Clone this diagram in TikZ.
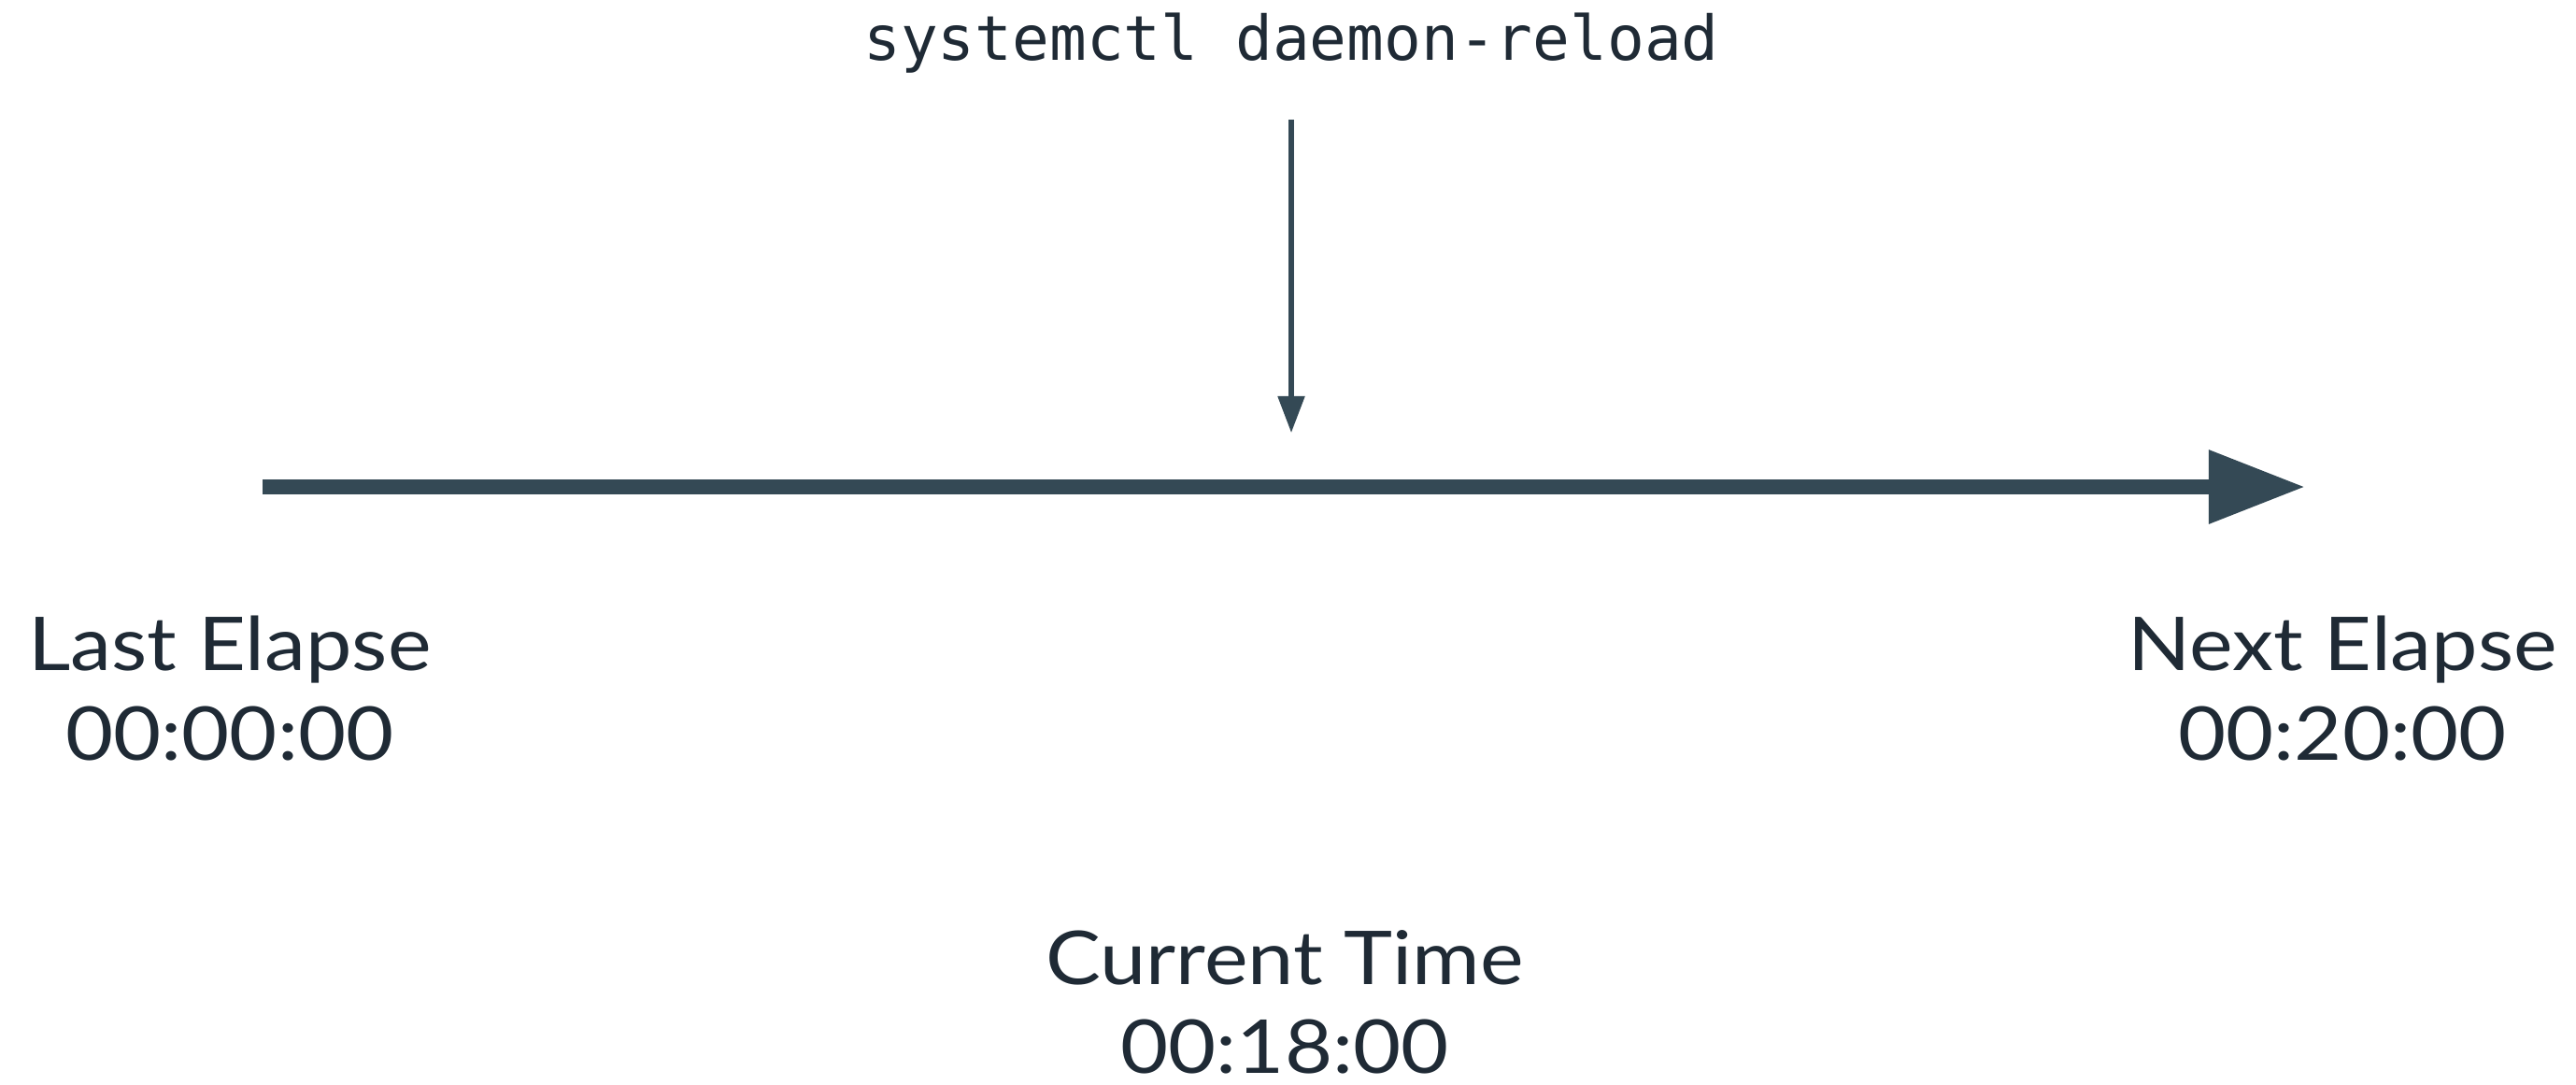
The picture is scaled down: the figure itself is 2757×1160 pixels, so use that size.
\documentclass[tikz,border=0pt]{standalone}
\usepackage{fontspec}
\setmainfont{Lato}[FakeStretch=1.11]
\setmonofont{DejaVu Sans Mono}
\usetikzlibrary{arrows.meta,positioning}
\definecolor{axiscol}{HTML}{344955}
\definecolor{textcol}{HTML}{1F2A35}
\tikzset{
    label/.style={inner sep=0pt, anchor=base, text=textcol, font=\fontsize{22.6}{27}\selectfont},
    cmd/.style={inner sep=0pt, anchor=base, text=textcol, font=\ttfamily\fontsize{18.8}{22}\selectfont},
    timeline/.style={draw=axiscol, line width=4.55pt, -{Triangle[length=1.03cm, width=0.75cm]}},
    trigger/.style={draw=axiscol, line width=1.45pt, -{Triangle[length=0.39cm, width=0.28cm]}}
}
\begin{document}
\begin{tikzpicture}[x=0.01cm, y=-0.01cm]
        \useasboundingbox (0,0) rectangle (2757,1160);
        % timeline
        \coordinate (start) at (281,521);
        \coordinate (end) at (2467,521);
        \draw[timeline] (start) -- (end);
        % reload
        \node[cmd] (reload) at (1382,64) {systemctl daemon-reload};
        \coordinate (hit) at (1382,463);
        \draw[trigger] (1382,128) -- (hit);
        % labels
        \node[label] (last) at (246,717) {Last Elapse};
        \node[label] (lasttime) at (246,813) {00:00:00};
        \node[label] (next) at (2507,717) {Next Elapse};
        \node[label] (nexttime) at (2507,813) {00:20:00};
        \node[label] (now) at (1375,1053) {Current Time};
        \node[label] (nowtime) at (1375,1148) {00:18:00};
\end{tikzpicture}
\end{document}
